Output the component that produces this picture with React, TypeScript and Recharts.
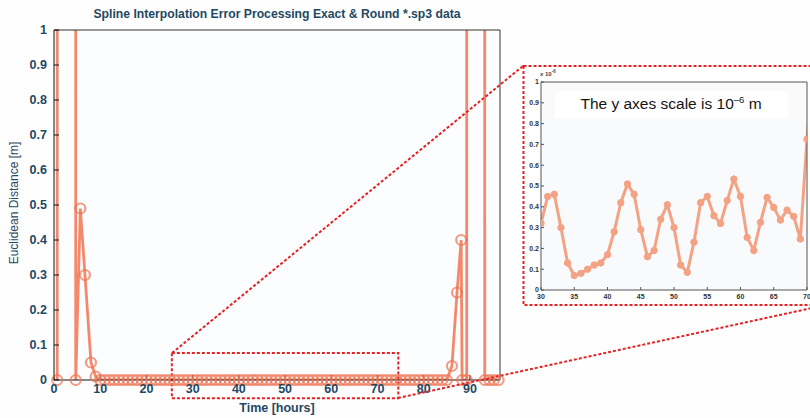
import React from 'react';
import { LineChart, Line, XAxis, YAxis, CartesianGrid, ReferenceArea } from 'recharts';

// Euclidean distance error [m] at the start of the arc (spike region)
const leftHours = [0.7, 0.8, 4.5, 4.7, 5.7, 6.7, 8, 9];
const leftMeters = [0, 40, 40, 0, 0.49, 0.3, 0.05, 0.01];

// Hourly error in the quiet part of the arc, in units of 1e-6 m
const microHours = [
  10, 11, 12, 13, 14, 15, 16, 17, 18, 19, 20, 21, 22, 23, 24, 25, 26, 27, 28, 29,
  30, 31, 32, 33, 34, 35, 36, 37, 38, 39, 40, 41, 42, 43, 44, 45, 46, 47, 48, 49,
  50, 51, 52, 53, 54, 55, 56, 57, 58, 59, 60, 61, 62, 63, 64, 65, 66, 67, 68, 69,
  70, 71, 72, 73, 74, 75, 76, 77, 78, 79, 80, 81, 82, 83, 84, 85,
];
const microValues = [
  0.42, 0.31, 0.25, 0.38, 0.47, 0.33, 0.21, 0.29, 0.44, 0.51, 0.36, 0.24, 0.18, 0.27, 0.39, 0.46, 0.35, 0.22, 0.26, 0.31,
  0.32, 0.45, 0.46, 0.3, 0.13, 0.07, 0.08, 0.1, 0.12, 0.13, 0.17, 0.28, 0.42, 0.51, 0.46, 0.29, 0.16, 0.19, 0.34, 0.41,
  0.3, 0.12, 0.085, 0.23, 0.42, 0.45, 0.357, 0.32, 0.43, 0.533, 0.45, 0.253, 0.19, 0.325, 0.445, 0.397, 0.336, 0.384, 0.354, 0.245,
  0.725, 1.1, 0.9, 0.62, 0.48, 0.37, 0.41, 0.55, 0.39, 0.28, 0.33, 0.47, 0.6, 0.44, 0.35, 0.5,
];

// Error at the end of the arc (spike region)
const rightHours = [86.1, 87.2, 88.1, 88.3, 89.3, 89.4, 93.0, 93.2, 94.2, 95.2, 96.2];
const rightMeters = [0.04, 0.25, 0.4, 0, 0, 40, 40, 0, 0, 0, 0];

const mainXTicks = [0, 10, 20, 30, 40, 50, 60, 70, 80, 90];
const mainYTicks = [0, 0.1, 0.2, 0.3, 0.4, 0.5, 0.6, 0.7, 0.8, 0.9, 1];
const insetXTicks = [30, 35, 40, 45, 50, 55, 60, 65, 70];
const insetYTicks = [0, 0.1, 0.2, 0.3, 0.4, 0.5, 0.6, 0.7, 0.8, 0.9, 1];

const MICRO = 1e-6;

const mainData = [
  ...leftHours.map((t, i) => ({ t, v: leftMeters[i] })),
  ...microHours.map((t, i) => ({ t, v: microValues[i] * MICRO })),
  ...rightHours.map((t, i) => ({ t, v: rightMeters[i] })),
];

const insetData = microHours
  .map((t, i) => ({ t, v: microValues[i] }))
  .filter((d) => d.t >= 30 && d.t <= 71);

const SERIES = '#f07452';
const INSET_SERIES = '#f4a284';
const LABEL = '#1f4862';
const RED = '#e42222';
const FONT = '"Liberation Sans", Arial, sans-serif';

const mainTick = { fill: LABEL, fontSize: 12.5, fontWeight: 700, fontFamily: FONT };
const insetTick = { fill: '#333', fontSize: 7, fontWeight: 700, fontFamily: FONT };

export default function App() {
  return (
    <div style={{ position: 'absolute', left: 0, top: 0, width: 810, height: 418, background: '#fefefe', overflow: 'hidden' }}>
      <style>{`.soft { filter: blur(0.75px); }`}</style>

      {/* main chart */}
      <div style={{ position: 'absolute', left: 0, top: 0 }}>
        <LineChart width={520} height={418} data={mainData} margin={{ top: 29, right: 19, bottom: 18, left: 10 }}>
          <CartesianGrid horizontal={false} vertical={false} fill="#fcfdfe" xAxisId="b" yAxisId="l" />
          <XAxis
            xAxisId="b"
            dataKey="t"
            type="number"
            domain={[0, 96.5]}
            ticks={mainXTicks}
            interval={0}
            allowDataOverflow
            height={20}
            tickSize={-5}
            tickMargin={9}
            stroke="#111"
            tick={mainTick}
          />
          <XAxis
            xAxisId="t"
            orientation="top"
            dataKey="t"
            type="number"
            domain={[0, 96.5]}
            ticks={mainXTicks}
            interval={0}
            allowDataOverflow
            height={1}
            tickSize={-5}
            tick={false}
            stroke="#333"
          />
          <YAxis
            yAxisId="l"
            type="number"
            domain={[0, 1]}
            ticks={mainYTicks}
            interval={0}
            allowDataOverflow
            width={44}
            tickSize={-5}
            tickMargin={12}
            stroke="#111"
            tick={mainTick}
          />
          <YAxis
            yAxisId="r"
            orientation="right"
            type="number"
            domain={[0, 1]}
            ticks={mainYTicks}
            interval={0}
            allowDataOverflow
            width={1}
            tickSize={-5}
            tick={false}
            stroke="#333"
          />
          <Line
            className="soft"
            xAxisId="b"
            yAxisId="l"
            dataKey="v"
            type="linear"
            stroke={SERIES}
            strokeWidth={2.8}
            strokeOpacity={0.85}
            dot={{ r: 5, stroke: SERIES, strokeWidth: 2.2, fill: 'none', strokeOpacity: 0.7, clipDot: false }}
            isAnimationActive={false}
          />
          <ReferenceArea
            xAxisId="b"
            yAxisId="l"
            x1={25.5}
            x2={74.5}
            y1={-0.052}
            y2={0.077}
            ifOverflow="visible"
            fill="none"
            stroke={RED}
            strokeWidth={2}
            strokeDasharray="3 2"
          />
        </LineChart>
      </div>

      {/* magnified view of 30-70 h */}
      <div style={{ position: 'absolute', left: 523, top: 65, width: 290, height: 240, background: '#ffffff' }}>
        <LineChart width={287} height={240} data={insetData} margin={{ top: 16, right: 2, bottom: 3, left: 2 }}>
          <CartesianGrid horizontal={false} vertical={false} fill="#f9fafc" xAxisId="b" yAxisId="l" />
          <XAxis
            xAxisId="b"
            dataKey="t"
            type="number"
            domain={[30, 70]}
            ticks={insetXTicks}
            interval={0}
            allowDataOverflow
            height={12}
            tickSize={-3}
            tickMargin={7}
            stroke="#555"
            tick={insetTick}
          />
          <XAxis
            xAxisId="t"
            orientation="top"
            dataKey="t"
            type="number"
            domain={[30, 70]}
            ticks={insetXTicks}
            interval={0}
            allowDataOverflow
            height={1}
            tickSize={-3}
            tick={false}
            stroke="#555"
          />
          <YAxis
            yAxisId="l"
            type="number"
            domain={[0, 1]}
            ticks={insetYTicks}
            interval={0}
            allowDataOverflow
            width={16}
            tickSize={-3}
            tickMargin={5}
            stroke="#555"
            tick={insetTick}
          />
          <YAxis
            yAxisId="r"
            orientation="right"
            type="number"
            domain={[0, 1]}
            ticks={insetYTicks}
            interval={0}
            allowDataOverflow
            width={1}
            tickSize={-3}
            tick={false}
            stroke="#555"
          />
          <Line
            className="soft"
            xAxisId="b"
            yAxisId="l"
            dataKey="v"
            type="linear"
            stroke={INSET_SERIES}
            strokeWidth={3}
            dot={{ r: 3.2, stroke: INSET_SERIES, strokeWidth: 1, fill: INSET_SERIES }}
            isAnimationActive={false}
          />
        </LineChart>
      </div>

      {/* titles, annotations and connectors */}
      <svg width={810} height={418} style={{ position: 'absolute', left: 0, top: 0, pointerEvents: 'none' }}>
        <text x={277} y={18} textAnchor="middle" fontFamily={FONT} fontSize={12.2} fontWeight={700} fill={LABEL}>
          Spline Interpolation Error Processing Exact &amp; Round *.sp3 data
        </text>
        <text
          x={18}
          y={203}
          textAnchor="middle"
          fontFamily={FONT}
          fontSize={12}
          fill={LABEL}
          transform="rotate(-90 18 203)"
        >
          Euclidean Distance [m]
        </text>
        <text x={277} y={412} textAnchor="middle" fontFamily={FONT} fontSize={12.5} fontWeight={700} fill={LABEL}>
          Time [hours]
        </text>

        <text x={540} y={76} fontFamily={FONT} fontSize={6} fontWeight={700} fill="#444">
          x 10<tspan dy={-3} fontSize={4.5}>-6</tspan>
        </text>
        <rect x={555} y={91} width={233} height={27} fill="#ffffff" />
        <text x={671} y={109} textAnchor="middle" fontFamily={FONT} fontSize={15.5} fill="#141414">
          The y axes scale is 10<tspan dy={-6} fontSize={9.5}>–6</tspan>
          <tspan dy={6}> m</tspan>
        </text>

        <rect x={523.5} y={66} width={300} height={239} fill="none" stroke={RED} strokeWidth={2} strokeDasharray="3 2" />
        <line x1={172} y1={353} x2={523} y2={66} stroke={RED} strokeWidth={2} strokeDasharray="3 2" />
        <line x1={398} y1={398} x2={812} y2={308} stroke={RED} strokeWidth={2} strokeDasharray="3 2" />
      </svg>
    </div>
  );
}
